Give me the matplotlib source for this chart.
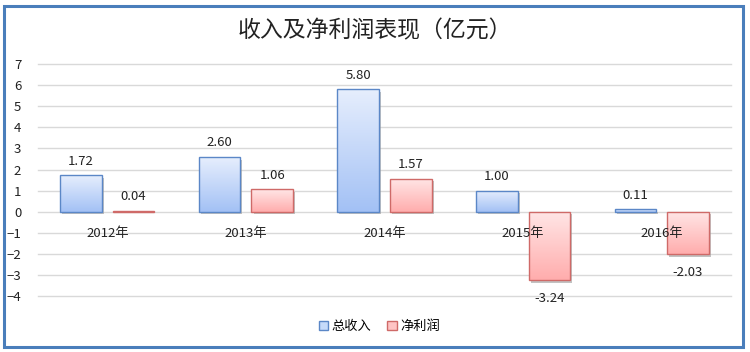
import numpy as np
import matplotlib
matplotlib.use("Agg")
import matplotlib.pyplot as plt
from matplotlib.patches import Rectangle
import matplotlib.patheffects as pe

plt.rcParams['font.family'] = ['Noto Sans CJK SC', 'DejaVu Sans']

# data
years = ["2012年", "2013年", "2014年", "2015年", "2016年"]
revenue = [1.72, 2.60, 5.80, 1.00, 0.11]
profit = [0.04, 1.06, 1.57, -3.24, -2.03]
series_names = ["总收入", "净利润"]

fig = plt.figure(figsize=(7.5, 3.52), dpi=100)
ax = fig.add_axes([0.0507, 0.159, 0.924, 0.659])

x = np.arange(len(years))
width = 0.30
offset = 0.19

styles = [
    dict(edge="#5b87c7", top="#e6eefd", bottom="#a3c1f5"),
    dict(edge="#cf6a68", top="#ffe6e6", bottom="#ffadad"),
]


def grad_bar(ax, xc, val, st):
    x0 = xc - width / 2
    y0, y1 = min(0, val), max(0, val)
    rect = Rectangle((x0, y0), width, y1 - y0, facecolor="none",
                     edgecolor=st["edge"], linewidth=1.0, zorder=3)
    shadow = Rectangle((x0, y0), width, y1 - y0, facecolor="#b0b0b0",
                       edgecolor="none", zorder=2,
                       path_effects=[pe.SimplePatchShadow(offset=(1.5, -2), shadow_rgbFace="#9a9a9a", alpha=0.6)])
    ax.add_patch(shadow)
    # gradient fill: light on top, darker at bottom
    c1 = np.array(matplotlib.colors.to_rgb(st["top"]))
    c2 = np.array(matplotlib.colors.to_rgb(st["bottom"]))
    t = np.linspace(0, 1, 64)[:, None]
    img = (c1 * (1 - t) + c2 * t)[:, None, :]
    im = ax.imshow(img, extent=(x0, x0 + width, y0, y1), origin="upper",
                   aspect="auto", zorder=2.5, interpolation="bilinear")
    ax.add_patch(rect)
    im.set_clip_path(rect)


for i in range(len(years)):
    grad_bar(ax, x[i] - offset, revenue[i], styles[0])
    grad_bar(ax, x[i] + offset, profit[i], styles[1])

# value labels
for vals, shift in ((revenue, -offset), (profit, offset)):
    for i, v in enumerate(vals):
        dy = 10 if v >= 0 else -13
        ax.annotate(f"{v:.2f}", (x[i] + shift, v), xytext=(0, dy), textcoords="offset points",
                    ha="center", va="center", fontsize=9.5, color="#222222")

# category labels just under zero line
for i, lab in enumerate(years):
    ax.annotate(lab, (x[i], 0), xytext=(0, -15.5), textcoords="offset points",
                ha="center", va="center", fontsize=9.5, color="#222222", zorder=5)

ax.set_xlim(-0.5, len(years) - 0.5)
ax.set_ylim(-4, 7)
ax.set_yticks(range(-4, 8))
ax.set_xticks([])
ax.grid(axis="y", color="#d9d9d9", linewidth=1.0, zorder=0)
for gl in ax.get_ygridlines():
    gl.set_clip_on(False)
ax.set_axisbelow(True)
for s in ax.spines.values():
    s.set_visible(False)
ax.tick_params(axis="y", length=0, pad=12, labelsize=9.5, labelcolor="#222222")

fig.text(0.5, 0.913, "收入及净利润表现（亿元）", ha="center", va="center",
         fontsize=16.5, color="#222222")

# legend
h1 = Rectangle((0, 0), 1, 1, facecolor="#c5dafa", edgecolor=styles[0]["edge"])
h2 = Rectangle((0, 0), 1, 1, facecolor="#ffc4c4", edgecolor=styles[1]["edge"])
fig.legend([h1, h2], series_names, loc="center", bbox_to_anchor=(0.506, 0.072),
           ncol=2, frameon=False, fontsize=9.5, handlelength=0.7, handleheight=0.7,
           handletextpad=0.3, columnspacing=1.2)

# outer frame
fig.patches.append(Rectangle((4 / 750, 5 / 352), 739 / 750, 341 / 352,
                             transform=fig.transFigure, fill=False,
                             edgecolor="#4a7ebb", linewidth=2.2))

fig.savefig("out.png", dpi=100)
